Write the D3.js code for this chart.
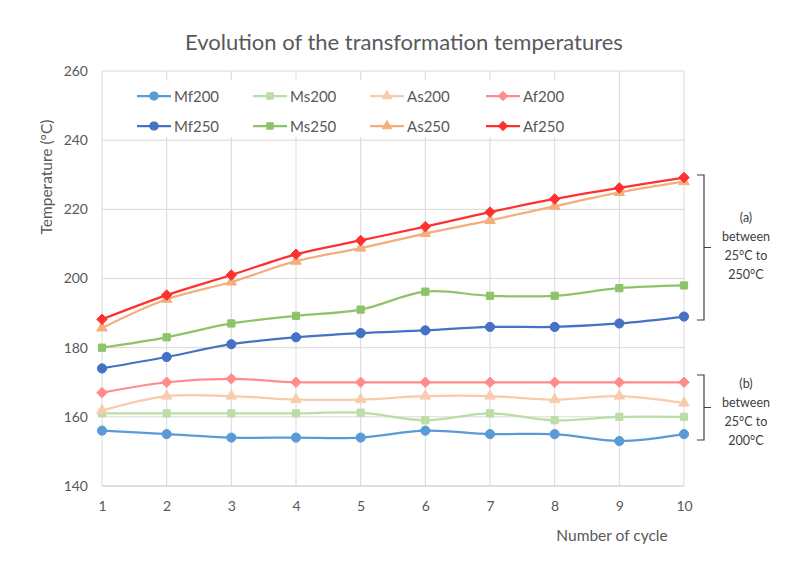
<!DOCTYPE html>
<html><head><meta charset="utf-8">
<script src="https://cdn.jsdelivr.net/npm/d3@7"></script>
<style>
body{margin:0;background:#fff;}
svg{display:block;font-family:Lato,"Open Sans",sans-serif;}
</style></head>
<body><svg id="c" width="788" height="563"></svg>
<script>
const cycles = [1,2,3,4,5,6,7,8,9,10];
const yTicks = [140,160,180,200,220,240,260];
const seriesNames = ["Mf200","Ms200","As200","Af200","Mf250","Ms250","As250","Af250"];
const Mf200 = [156,155,154,154,154,156,155,155,153,155];
const Ms200 = [161,161,161,161,161.2,159,161,159,160,160];
const As200 = [161.8,166,166,165,165,166,166,165,166,164];
const Af200 = [167,170,171,170,170,170,170,170,170,170];
const Mf250 = [174,177.3,181,183,184.2,185,186,186,187,189];
const Ms250 = [180,183,187,189.2,191,196.2,195,195,197.2,198];
const As250 = [185.7,194,199,205,208.8,213,216.8,220.9,224.9,228];
const Af250 = [188.2,195.2,201,207,211,215,219.2,223,226.2,229.2];
const seriesValues = [Mf200,Ms200,As200,Af200,Mf250,Ms250,As250,Af250];
const seriesColors = ["#5B9BD5","#BCDDA6","#F8CBAD","#FF8C8C","#4472C4","#8DC46A","#F4AE7C","#FF3030"];
const seriesMarkers = ["circle","square","triangle","diamond","circle","square","triangle","diamond"];
const title = "Evolution of the transformation temperatures";
const yTitle = "Temperature (°C)";
const xTitle = "Number of cycle";
const noteA = ["(a)","between","25°C to","250°C"];
const noteB = ["(b)","between","25°C to","200°C"];

const svg = d3.select("#c");
const x = d3.scaleLinear().domain([1,10]).range([102,684]);
const y = d3.scaleLinear().domain([140,260]).range([486,71]);
const txt = "#595959";

// grid
svg.append("g").selectAll("line").data(yTicks).join("line")
  .attr("x1",x(1)).attr("x2",x(10)).attr("y1",d=>y(d)).attr("y2",d=>y(d))
  .attr("stroke",d=>d===140?"#BFBFBF":"#D9D9D9").attr("stroke-width",1);
svg.append("g").selectAll("line").data(cycles).join("line")
  .attr("x1",d=>x(d)).attr("x2",d=>x(d)).attr("y1",y(260)).attr("y2",y(140))
  .attr("stroke","#D9D9D9").attr("stroke-width",1);

// axes
const ya = svg.append("g").attr("transform",`translate(${x(1)},0)`)
  .call(d3.axisLeft(y).tickValues(yTicks).tickSize(0).tickPadding(14));
ya.select(".domain").remove();
ya.selectAll("text").attr("fill",txt).style("font-size","14px").style("font-family","Lato,sans-serif");
const xa = svg.append("g").attr("transform",`translate(0,${y(140)})`)
  .call(d3.axisBottom(x).tickValues(cycles).tickFormat(d3.format("d")).tickSize(0).tickPadding(15));
xa.select(".domain").remove();
xa.selectAll("text").attr("fill",txt).style("font-size","14px").style("font-family","Lato,sans-serif");

// titles
svg.append("text").attr("x",404).attr("y",50).attr("text-anchor","middle")
  .attr("fill",txt).style("font-size","22px").text(title);
svg.append("text").attr("transform","translate(52,177) rotate(-90)").attr("text-anchor","middle")
  .attr("fill",txt).style("font-size","15.5px").text(yTitle);
svg.append("text").attr("x",612).attr("y",541).attr("text-anchor","middle")
  .attr("fill",txt).style("font-size","15.5px").text(xTitle);

// symbols
const diamond = {draw(ctx,size){const r=Math.sqrt(size)/2;ctx.moveTo(0,-r);ctx.lineTo(r,0);ctx.lineTo(0,r);ctx.lineTo(-r,0);ctx.closePath();}};
const symType = {circle:d3.symbolCircle,square:d3.symbolSquare,triangle:d3.symbolTriangle,diamond:diamond};
const symSize = {circle:66,square:52,triangle:48,diamond:110};
function marker(g,kind,color,s){
  return g.append("path").attr("d",d3.symbol().type(symType[kind]).size(symSize[kind]*(s||1))())
    .attr("fill",color).attr("stroke",color).attr("stroke-width",1);
}

// series
const line = d3.line().x((d,i)=>x(cycles[i])).y(d=>y(d)).curve(d3.curveCatmullRom.alpha(0.5));
seriesNames.forEach((name,k)=>{
  const g = svg.append("g");
  g.append("path").attr("d",line(seriesValues[k])).attr("fill","none")
    .attr("stroke",seriesColors[k]).attr("stroke-width",2.25);
  seriesValues[k].forEach((v,i)=>{
    marker(g,seriesMarkers[k],seriesColors[k]).attr("transform",`translate(${x(cycles[i])},${y(v)})`);
  });
});

// legend
svg.append("rect").attr("x",115).attr("y",80).attr("width",468).attr("height",57).attr("fill","#fff");
const colX = [137,253,370,486], rowY = [96,126];
seriesNames.forEach((name,k)=>{
  const lx = colX[k%4], ly = rowY[Math.floor(k/4)];
  const g = svg.append("g");
  g.append("line").attr("x1",lx).attr("x2",lx+34).attr("y1",ly).attr("y2",ly)
    .attr("stroke",seriesColors[k]).attr("stroke-width",2.25);
  marker(g,seriesMarkers[k],seriesColors[k],0.8).attr("transform",`translate(${lx+17},${ly})`);
  g.append("text").attr("x",lx+37).attr("y",ly+5.5).attr("fill",txt).style("font-size","15px").text(name);
});

// brackets
function brace(top,bot,lines,textY){
  const mid=(top+bot)/2, bx=704;
  svg.append("path").attr("d",`M${bx-7},${top} L${bx},${top} L${bx},${bot} L${bx-7},${bot} M${bx},${mid} L${bx+7},${mid}`)
    .attr("fill","none").attr("stroke","#404040").attr("stroke-width",1.2);
  lines.forEach((t,i)=>{
    svg.append("text").attr("x",746).attr("y",textY+i*19).attr("text-anchor","middle")
      .attr("fill","#404040").style("font-size","12.5px").text(t);
  });
}
brace(175,320,noteA,222);
brace(375,440,noteB,388);
</script></body></html>
